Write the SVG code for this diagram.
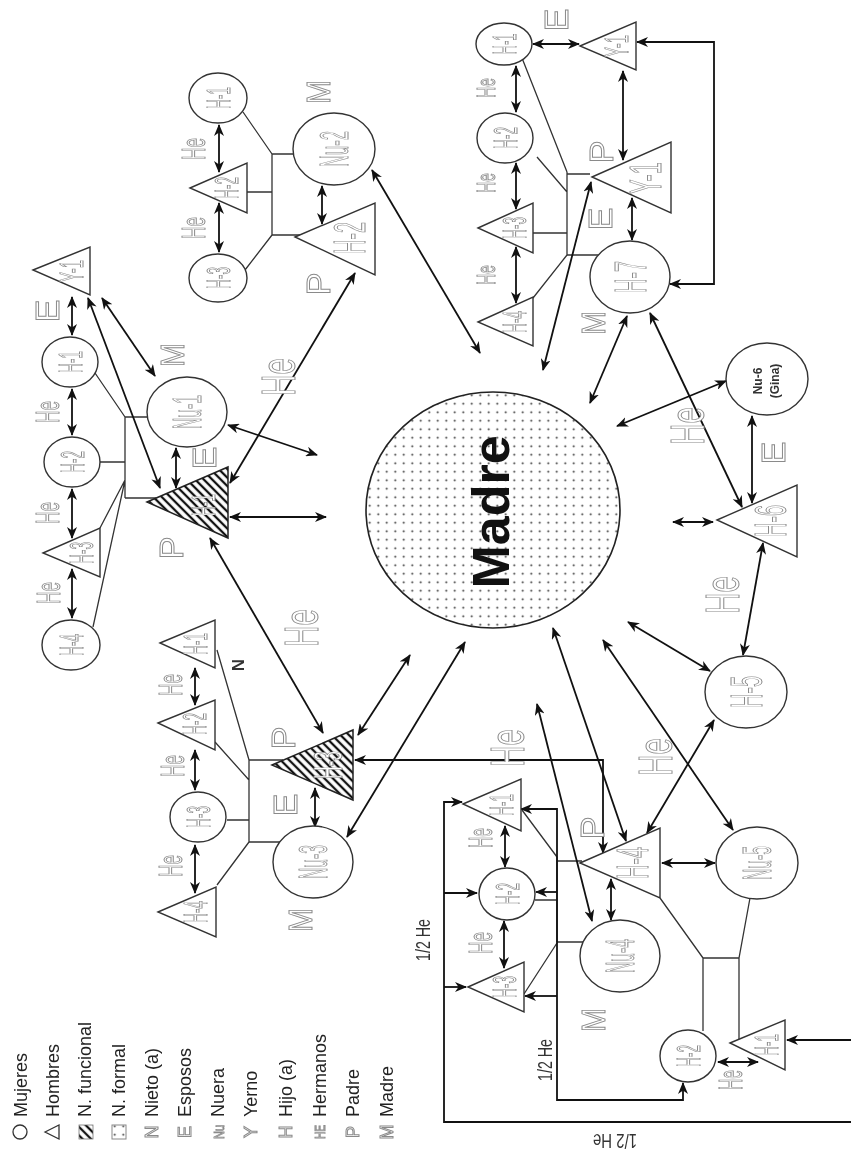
<svg xmlns="http://www.w3.org/2000/svg" width="851" height="1151" viewBox="0 0 851 1151">
<defs>
<style>
.n{fill:#fff;stroke:#333;stroke-width:1.4}
.t{fill:none;stroke:#333;stroke-width:1.3}
.c{fill:none;stroke:#111;stroke-width:1.8;marker-start:url(#ah);marker-end:url(#ah)}
.c1{fill:none;stroke:#111;stroke-width:1.8;marker-end:url(#ah)}
.lb{font-family:"Liberation Sans",Arial,sans-serif;fill:#fff;stroke:#8a8a8a;stroke-width:1;text-anchor:middle}
.dk{font-family:"Liberation Sans",Arial,sans-serif;fill:#333;text-anchor:middle}
.lg{font-family:"Liberation Sans",Arial,sans-serif;fill:#222;font-size:18px}
</style>
<filter id="gray" filterUnits="userSpaceOnUse" x="0" y="0" width="851" height="1151"><feColorMatrix type="saturate" values="0"/></filter>
<marker id="ah" viewBox="0 0 12 10" refX="11" refY="5" markerWidth="12" markerHeight="10" markerUnits="userSpaceOnUse" orient="auto-start-reverse"><path d="M0,0 L12,5 L0,10 L3.5,5 z" fill="#111"/></marker>
<pattern id="hatch" width="6" height="6" patternUnits="userSpaceOnUse" patternTransform="rotate(-45)"><rect width="6" height="6" fill="#fff"/><line x1="3" y1="0" x2="3" y2="6" stroke="#111" stroke-width="2.3"/></pattern>
<pattern id="dots" width="8.5" height="8.5" patternUnits="userSpaceOnUse"><rect width="8.5" height="8.5" fill="#fff"/><circle cx="4.25" cy="4.25" r="1" fill="#333"/></pattern>
</defs>
<rect width="851" height="1151" fill="#fff"/>
<g filter="url(#gray)">
<g id="connectors">
<path class="t" d="M125,417 V498 M125,417 H147 M125,498 H156 M95,373 L125,417 M100,462 H125 M100,528 L125,480 M93,627 L125,480"/>
<path class="t" d="M272,154 V235 M272,154 H293 M272,235 H300 M243,112 L272,154 M247,192 H272 M245,270 L272,235"/>
<path class="t" d="M567,172 V255 M567,174 H590 M567,255 H599 M522,58 L567,172 M537,157 L567,192 M533,233 H567 M533,298 L567,255"/>
<path class="t" d="M249,760 V842 M249,760 H283 M249,842 H281 M227,820 H249 M215,742 L249,780 M217,650 L249,760 M217,885 L249,842"/>
<path class="t" d="M557,857 V942 M557,861 H582 M557,942 H583 M522,810 L557,857 M535,900 H557 M524,994 L557,943"/>
<path class="t" d="M660,898 L703,958 H739 L750,898 M703,958 V1031 M739,958 V1040"/>
<path class="c" d="M72,297 V335"/>
<path class="c" d="M72,389 V435"/>
<path class="c" d="M72,489 V538"/>
<path class="c" d="M72,569 V618"/>
<path class="c" d="M176,448 V488"/>
<path class="c" d="M88,298 L160,488"/>
<path class="c" d="M102,298 L155,376"/>
<path class="c" d="M228,425 L317,455"/>
<path class="c" d="M230,517 H326"/>
<path class="c" d="M355,273 L230,483"/>
<path class="c" d="M210,538 L323,733"/>
<path class="c" d="M322,186 V224"/>
<path class="c" d="M219,125 V172"/>
<path class="c" d="M219,203 V252"/>
<path class="c" d="M372,170 L480,353"/>
<path class="c" d="M516,66 V112"/>
<path class="c" d="M516,163 V209"/>
<path class="c" d="M516,247 V303"/>
<path class="c" d="M533,44 H579"/>
<path class="c" d="M623,71 V160"/>
<path class="c" d="M632,198 V240"/>
<path class="c" d="M637,42 H714 V284 H670"/>
<path class="c" d="M591,182 L543,370"/>
<path class="c" d="M627,316 L590,403"/>
<path class="c" d="M650,313 L742,507"/>
<path class="c" d="M752,416 V503"/>
<path class="c" d="M726,381 L617,426"/>
<path class="c" d="M713,522 H673"/>
<path class="c" d="M763,543 L743,655"/>
<path class="c" d="M710,671 L628,622"/>
<path class="c" d="M714,720 L647,833"/>
<path class="c" d="M603,640 L733,830"/>
<path class="c" d="M662,863 H715"/>
<path class="c" d="M195,668 V705"/>
<path class="c" d="M195,750 V790"/>
<path class="c" d="M195,845 V893"/>
<path class="c" d="M315,788 V827"/>
<path class="c" d="M358,735 L410,655"/>
<path class="c" d="M347,837 L465,642"/>
<path class="c" d="M553,628 L626,841"/>
<path class="c" d="M537,704 L592,921"/>
<path class="c" d="M611,879 V920"/>
<path class="c" d="M355,760 H603 V853"/>
<path class="c" d="M505,826 V867"/>
<path class="c" d="M504,921 V968"/>
<path class="c" d="M462,802 H444 V1122 H860 V1040 H787"/>
<path class="c1" d="M444,893 H477"/>
<path class="c1" d="M444,987 H466"/>
<path class="c" d="M521,809 H557 V1100 H683 V1083"/>
<path class="c1" d="M557,892 H536"/>
<path class="c1" d="M557,996 H525"/>
<path class="c" d="M718,1062 H758"/>
</g>

<g id="madre">
<ellipse cx="493" cy="510" rx="127" ry="118" fill="url(#dots)" stroke="#222" stroke-width="1.6"/>
<text transform="translate(509,512) rotate(-90)" style="font-family:'Liberation Sans',Arial,sans-serif;font-weight:bold;font-size:52px;text-anchor:middle;fill:#111">Madre</text>
</g>

<g id="f1-H1-hatched"><polygon points="147,502 228,467 228,538" fill="url(#hatch)" stroke="#222" stroke-width="1.5"/><text class="lb" transform="translate(215,505) rotate(-90)" font-size="34" textLength="22" lengthAdjust="spacingAndGlyphs">H-1</text></g>
<g id="f1-Nu1"><ellipse class="n" cx="187" cy="412" rx="40" ry="35"/><text class="lb" transform="translate(201,412) rotate(-90)" font-size="40" textLength="34" lengthAdjust="spacingAndGlyphs">Nu-1</text></g>
<g id="f1-H1"><ellipse class="n" cx="70" cy="362" rx="28" ry="25"/><text class="lb" transform="translate(82,362) rotate(-90)" font-size="34" textLength="22" lengthAdjust="spacingAndGlyphs">H-1</text></g>
<g id="f1-H2"><ellipse class="n" cx="72" cy="462" rx="28" ry="25"/><text class="lb" transform="translate(84,462) rotate(-90)" font-size="34" textLength="22" lengthAdjust="spacingAndGlyphs">H-2</text></g>
<g id="f1-H3"><polygon class="n" points="43,553 100,528 100,577"/><text class="lb" transform="translate(93,553) rotate(-90)" font-size="34" textLength="22" lengthAdjust="spacingAndGlyphs">H-3</text></g>
<g id="f1-H4"><ellipse class="n" cx="71" cy="645" rx="29" ry="25"/><text class="lb" transform="translate(83,645) rotate(-90)" font-size="34" textLength="22" lengthAdjust="spacingAndGlyphs">H-4</text></g>
<g id="f1-Y1"><polygon class="n" points="33,270 90,247 90,295"/><text class="lb" transform="translate(83,271) rotate(-90)" font-size="34" textLength="22" lengthAdjust="spacingAndGlyphs">Y-1</text></g>

<g id="f2-H2"><polygon class="n" points="295,237 375,203 375,275"/><text class="lb" transform="translate(365,238) rotate(-90)" font-size="44" textLength="32" lengthAdjust="spacingAndGlyphs">H-2</text></g>
<g id="f2-Nu2"><ellipse class="n" cx="334" cy="149" rx="41" ry="36"/><text class="lb" transform="translate(348,149) rotate(-90)" font-size="40" textLength="36" lengthAdjust="spacingAndGlyphs">Nu-2</text></g>
<g id="f2-c-H1"><ellipse class="n" cx="218" cy="98" rx="29" ry="25"/><text class="lb" transform="translate(230,98) rotate(-90)" font-size="34" textLength="22" lengthAdjust="spacingAndGlyphs">H-1</text></g>
<g id="f2-c-H2"><polygon class="n" points="190,188 247,163 247,213"/><text class="lb" transform="translate(238,188) rotate(-90)" font-size="34" textLength="22" lengthAdjust="spacingAndGlyphs">H-2</text></g>
<g id="f2-c-H3"><ellipse class="n" cx="218" cy="278" rx="29" ry="24"/><text class="lb" transform="translate(230,278) rotate(-90)" font-size="34" textLength="22" lengthAdjust="spacingAndGlyphs">H-3</text></g>

<g id="f3-c-H1"><ellipse class="n" cx="504" cy="44" rx="28" ry="21"/><text class="lb" transform="translate(516,44) rotate(-90)" font-size="34" textLength="21" lengthAdjust="spacingAndGlyphs">H-1</text></g>
<g id="f3-c-H2"><ellipse class="n" cx="505" cy="138" rx="28" ry="25"/><text class="lb" transform="translate(517,138) rotate(-90)" font-size="34" textLength="22" lengthAdjust="spacingAndGlyphs">H-2</text></g>
<g id="f3-c-H3"><polygon class="n" points="478,228 533,203 533,253"/><text class="lb" transform="translate(526,228) rotate(-90)" font-size="34" textLength="22" lengthAdjust="spacingAndGlyphs">H-3</text></g>
<g id="f3-c-H4"><polygon class="n" points="478,322 533,297 533,346"/><text class="lb" transform="translate(526,322) rotate(-90)" font-size="34" textLength="22" lengthAdjust="spacingAndGlyphs">H-4</text></g>
<g id="f3-Y1-top"><polygon class="n" points="580,46 636,22 636,70"/><text class="lb" transform="translate(628,46) rotate(-90)" font-size="34" textLength="22" lengthAdjust="spacingAndGlyphs">Y-1</text></g>
<g id="f3-Y1"><polygon class="n" points="592,177 671,142 671,213"/><text class="lb" transform="translate(661,178) rotate(-90)" font-size="44" textLength="32" lengthAdjust="spacingAndGlyphs">Y-1</text></g>
<g id="f3-H7"><ellipse class="n" cx="630" cy="277" rx="40" ry="36"/><text class="lb" transform="translate(646,277) rotate(-90)" font-size="44" textLength="32" lengthAdjust="spacingAndGlyphs">H-7</text></g>

<g id="H6"><polygon class="n" points="717,520 797,485 797,557"/><text class="lb" transform="translate(786,521) rotate(-90)" font-size="44" textLength="32" lengthAdjust="spacingAndGlyphs">H-6</text></g>
<g id="Nu6"><ellipse class="n" cx="767" cy="379" rx="41" ry="36"/><text class="dk" transform="translate(762,381) rotate(-90)" font-size="12" font-weight="bold">Nu-6</text><text class="dk" transform="translate(779,381) rotate(-90)" font-size="12" font-weight="bold">(Gina)</text></g>
<g id="H5"><ellipse class="n" cx="746" cy="692" rx="41" ry="36"/><text class="lb" transform="translate(762,692) rotate(-90)" font-size="44" textLength="32" lengthAdjust="spacingAndGlyphs">H-5</text></g>

<g id="f4-H3-hatched"><polygon points="272,765 353,730 353,800" fill="url(#hatch)" stroke="#222" stroke-width="1.5"/><text class="lb" transform="translate(342,765) rotate(-90)" font-size="40" textLength="28" lengthAdjust="spacingAndGlyphs">H-3</text></g>
<g id="f4-Nu3"><ellipse class="n" cx="313" cy="862" rx="40" ry="36"/><text class="lb" transform="translate(327,862) rotate(-90)" font-size="40" textLength="34" lengthAdjust="spacingAndGlyphs">Nu-3</text></g>
<g id="f4-c-H1"><polygon class="n" points="160,643 215,620 215,668"/><text class="lb" transform="translate(207,644) rotate(-90)" font-size="34" textLength="22" lengthAdjust="spacingAndGlyphs">H-1</text></g>
<g id="f4-c-H2"><polygon class="n" points="158,723 215,700 215,750"/><text class="lb" transform="translate(206,724) rotate(-90)" font-size="34" textLength="22" lengthAdjust="spacingAndGlyphs">H-2</text></g>
<g id="f4-c-H3"><ellipse class="n" cx="198" cy="817" rx="28" ry="25"/><text class="lb" transform="translate(210,817) rotate(-90)" font-size="34" textLength="22" lengthAdjust="spacingAndGlyphs">H-3</text></g>
<g id="f4-c-H4"><polygon class="n" points="158,912 216,887 216,937"/><text class="lb" transform="translate(207,912) rotate(-90)" font-size="34" textLength="22" lengthAdjust="spacingAndGlyphs">H-4</text></g>

<g id="f5-H4"><polygon class="n" points="580,863 660,828 660,898"/><text class="lb" transform="translate(648,863) rotate(-90)" font-size="44" textLength="32" lengthAdjust="spacingAndGlyphs">H-4</text></g>
<g id="f5-Nu4"><ellipse class="n" cx="620" cy="956" rx="40" ry="36"/><text class="lb" transform="translate(634,956) rotate(-90)" font-size="40" textLength="34" lengthAdjust="spacingAndGlyphs">Nu-4</text></g>
<g id="f5-Nu5"><ellipse class="n" cx="757" cy="863" rx="41" ry="36"/><text class="lb" transform="translate(771,863) rotate(-90)" font-size="40" textLength="34" lengthAdjust="spacingAndGlyphs">Nu-5</text></g>
<g id="f5-c-H1"><polygon class="n" points="463,804 521,779 521,831"/><text class="lb" transform="translate(513,805) rotate(-90)" font-size="34" textLength="22" lengthAdjust="spacingAndGlyphs">H-1</text></g>
<g id="f5-c-H2"><ellipse class="n" cx="507" cy="894" rx="28" ry="26"/><text class="lb" transform="translate(519,894) rotate(-90)" font-size="34" textLength="22" lengthAdjust="spacingAndGlyphs">H-2</text></g>
<g id="f5-c-H3"><polygon class="n" points="468,987 524,962 524,1012"/><text class="lb" transform="translate(516,987) rotate(-90)" font-size="34" textLength="22" lengthAdjust="spacingAndGlyphs">H-3</text></g>
<g id="f6-c-H2"><ellipse class="n" cx="688" cy="1056" rx="28" ry="26"/><text class="lb" transform="translate(700,1056) rotate(-90)" font-size="34" textLength="22" lengthAdjust="spacingAndGlyphs">H-2</text></g>
<g id="f6-c-H1"><polygon class="n" points="730,1043 785,1020 785,1070"/><text class="lb" transform="translate(778,1045) rotate(-90)" font-size="34" textLength="22" lengthAdjust="spacingAndGlyphs">H-1</text></g>

<g id="relation-labels">
<text class="lb" transform="translate(59,311) rotate(-90)" font-size="34">E</text>
<text class="lb" transform="translate(59,412) rotate(-90)" font-size="34" textLength="22" lengthAdjust="spacingAndGlyphs">He</text>
<text class="lb" transform="translate(59,513) rotate(-90)" font-size="34" textLength="22" lengthAdjust="spacingAndGlyphs">He</text>
<text class="lb" transform="translate(60,593) rotate(-90)" font-size="34" textLength="22" lengthAdjust="spacingAndGlyphs">He</text>
<text class="lb" transform="translate(216,458) rotate(-90)" font-size="34">E</text>
<text class="lb" transform="translate(184,355) rotate(-90)" font-size="34" textLength="24" lengthAdjust="spacingAndGlyphs">M</text>
<text class="lb" transform="translate(183,548) rotate(-90)" font-size="34">P</text>
<text class="lb" transform="translate(295,377) rotate(-90)" font-size="48" textLength="38" lengthAdjust="spacingAndGlyphs">He</text>
<text class="lb" transform="translate(318,628) rotate(-90)" font-size="48" textLength="38" lengthAdjust="spacingAndGlyphs">He</text>
<text class="lb" transform="translate(205,149) rotate(-90)" font-size="34" textLength="22" lengthAdjust="spacingAndGlyphs">He</text>
<text class="lb" transform="translate(205,228) rotate(-90)" font-size="34" textLength="22" lengthAdjust="spacingAndGlyphs">He</text>
<text class="lb" transform="translate(330,92) rotate(-90)" font-size="34" textLength="24" lengthAdjust="spacingAndGlyphs">M</text>
<text class="lb" transform="translate(330,284) rotate(-90)" font-size="34">P</text>
<text class="lb" transform="translate(495,88) rotate(-90)" font-size="26" textLength="20" lengthAdjust="spacingAndGlyphs">He</text>
<text class="lb" transform="translate(495,183) rotate(-90)" font-size="26" textLength="20" lengthAdjust="spacingAndGlyphs">He</text>
<text class="lb" transform="translate(495,275) rotate(-90)" font-size="26" textLength="20" lengthAdjust="spacingAndGlyphs">He</text>
<text class="lb" transform="translate(568,20) rotate(-90)" font-size="34">E</text>
<text class="lb" transform="translate(613,152) rotate(-90)" font-size="34">P</text>
<text class="lb" transform="translate(612,219) rotate(-90)" font-size="34">E</text>
<text class="lb" transform="translate(605,323) rotate(-90)" font-size="34" textLength="24" lengthAdjust="spacingAndGlyphs">M</text>
<text class="lb" transform="translate(704,426) rotate(-90)" font-size="48" textLength="38" lengthAdjust="spacingAndGlyphs">He</text>
<text class="lb" transform="translate(785,453) rotate(-90)" font-size="34">E</text>
<text class="lb" transform="translate(739,595) rotate(-90)" font-size="48" textLength="38" lengthAdjust="spacingAndGlyphs">He</text>
<text class="lb" transform="translate(672,757) rotate(-90)" font-size="48" textLength="38" lengthAdjust="spacingAndGlyphs">He</text>
<text class="lb" transform="translate(524,748) rotate(-90)" font-size="48" textLength="38" lengthAdjust="spacingAndGlyphs">He</text>
<text class="lb" transform="translate(604,828) rotate(-90)" font-size="34">P</text>
<text class="lb" transform="translate(605,1020) rotate(-90)" font-size="34" textLength="24" lengthAdjust="spacingAndGlyphs">M</text>
<text class="lb" transform="translate(295,738) rotate(-90)" font-size="34">P</text>
<text class="lb" transform="translate(297,805) rotate(-90)" font-size="34">E</text>
<text class="lb" transform="translate(312,920) rotate(-90)" font-size="34" textLength="24" lengthAdjust="spacingAndGlyphs">M</text>
<text class="lb" transform="translate(182,685) rotate(-90)" font-size="34" textLength="22" lengthAdjust="spacingAndGlyphs">He</text>
<text class="lb" transform="translate(184,766) rotate(-90)" font-size="34" textLength="22" lengthAdjust="spacingAndGlyphs">He</text>
<text class="lb" transform="translate(182,866) rotate(-90)" font-size="34" textLength="22" lengthAdjust="spacingAndGlyphs">He</text>
<text class="dk" transform="translate(244,665) rotate(-90)" font-size="17" font-weight="bold">N</text>
<text class="lb" transform="translate(492,838) rotate(-90)" font-size="34" textLength="20" lengthAdjust="spacingAndGlyphs">He</text>
<text class="lb" transform="translate(492,943) rotate(-90)" font-size="34" textLength="22" lengthAdjust="spacingAndGlyphs">He</text>
<text class="lb" transform="translate(742,1080) rotate(-90)" font-size="34" textLength="20" lengthAdjust="spacingAndGlyphs">He</text>
<text class="dk" transform="translate(430,940) rotate(-90)" font-size="20" textLength="42" lengthAdjust="spacingAndGlyphs">1/2 He</text>
<text class="dk" transform="translate(552,1060) rotate(-90)" font-size="20" textLength="42" lengthAdjust="spacingAndGlyphs">1/2 He</text>
<text class="dk" transform="translate(615,1134) rotate(180)" font-size="20" textLength="44" lengthAdjust="spacingAndGlyphs">1/2 He</text>
</g>

<g id="legend">
<circle cx="20" cy="1132" r="7" fill="none" stroke="#333" stroke-width="1.3"/>
<polygon points="45,1132 59,1125 59,1139" fill="none" stroke="#333" stroke-width="1.3"/>
<rect x="79" y="1125" width="14" height="14" fill="url(#hatch)" stroke="#777" stroke-width="0.8"/>
<rect x="112" y="1125" width="14" height="14" fill="url(#dots)" stroke="#888" stroke-width="1"/>
<text class="lb" transform="translate(158,1132) rotate(-90)" font-size="18">N</text>
<text class="lb" transform="translate(191,1132) rotate(-90)" font-size="18">E</text>
<text class="lb" transform="translate(224,1132) rotate(-90)" font-size="14" textLength="14" lengthAdjust="spacingAndGlyphs">Nu</text>
<text class="lb" transform="translate(257,1132) rotate(-90)" font-size="18">Y</text>
<text class="lb" transform="translate(292,1132) rotate(-90)" font-size="18">H</text>
<text class="lb" transform="translate(325,1132) rotate(-90)" font-size="14" textLength="14" lengthAdjust="spacingAndGlyphs">HE</text>
<text class="lb" transform="translate(359,1132) rotate(-90)" font-size="18">P</text>
<text class="lb" transform="translate(393,1132) rotate(-90)" font-size="18">M</text>
<text class="lg" transform="translate(27,1117) rotate(-90)">Mujeres</text>
<text class="lg" transform="translate(59,1117) rotate(-90)">Hombres</text>
<text class="lg" transform="translate(91,1117) rotate(-90)">N. funcional</text>
<text class="lg" transform="translate(125,1117) rotate(-90)">N. formal</text>
<text class="lg" transform="translate(158,1117) rotate(-90)">Nieto (a)</text>
<text class="lg" transform="translate(191,1117) rotate(-90)">Esposos</text>
<text class="lg" transform="translate(224,1117) rotate(-90)">Nuera</text>
<text class="lg" transform="translate(257,1117) rotate(-90)">Yerno</text>
<text class="lg" transform="translate(292,1117) rotate(-90)">Hijo (a)</text>
<text class="lg" transform="translate(326,1117) rotate(-90)">Hermanos</text>
<text class="lg" transform="translate(359,1117) rotate(-90)">Padre</text>
<text class="lg" transform="translate(393,1117) rotate(-90)">Madre</text>
</g>
</g>
</svg>
